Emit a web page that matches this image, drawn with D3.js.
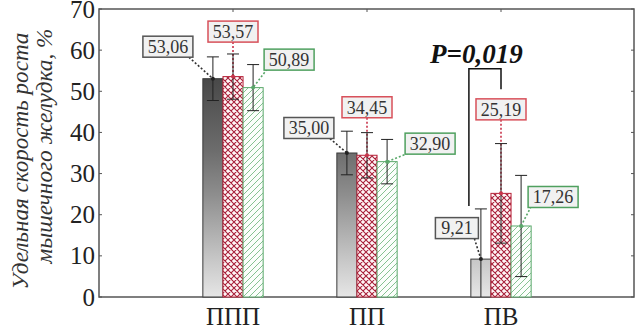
<!DOCTYPE html>
<html><head><meta charset="utf-8">
<script src="https://cdn.jsdelivr.net/npm/d3@7"></script>
<style>
html,body{margin:0;padding:0;background:#fff;}
svg{display:block;}
</style></head>
<body>
<svg id="chart" width="637" height="330"></svg>
<script>
// ---- data ----
const categories = ["ППП", "ПП", "ПВ"];
const valuesDark  = [53.06, 35.00, 9.21];
const valuesRed   = [53.57, 34.45, 25.19];
const valuesGreen = [50.89, 32.90, 17.26];
const errDark  = [5.3, 5.3, 12.2];
const errRed   = [5.5, 5.5, 12.1];
const errGreen = [5.6, 5.4, 12.3];
const yTicks = [0, 10, 20, 30, 40, 50, 60, 70];
const yTitle = ["Удельная скорость роста", "мышечного желудка, %"];
const pLabel = "P=0,019";

// ---- font detection (pick an installed serif face) ----
function pickFont(cands){
  const c = document.createElement("canvas").getContext("2d");
  const s = "Удельная 0123456789 mmmwwwlli";
  for (const f of cands){
    for (const base of ["monospace","sans-serif"]){
      c.font = `40px ${base}`; const w0 = c.measureText(s).width;
      c.font = `40px "${f}", ${base}`; const w1 = c.measureText(s).width;
      if (Math.abs(w1-w0) > 0.5) return `"${f}", serif`;
    }
  }
  return "serif";
}
const FF = pickFont(["Liberation Serif","Tinos","Times New Roman","Times","Noto Serif","DejaVu Serif","FreeSerif","Nimbus Roman"]);

// ---- layout ----
const svg = d3.select("#chart").style("font-family", FF);
const x = d3.scaleLinear().domain([0, categories.length + 1]).range([99, 635]);
const y = d3.scaleLinear().domain([0, 70]).range([297, 9]);
const barU = 0.15;
const bw = x(barU) - x(0);

const series = [
  {key:"dark",  vals:valuesDark,  err:errDark,  off:-1, fill:"url(#gradDark)", stroke:"#3a3a3a", lab:"#555", lead:"#333",
   lo:[[-45,-32],[-38,-25],[-24,-31]]},
  {key:"red",   vals:valuesRed,   err:errRed,   off:0,  fill:"url(#hatchRed)", stroke:"#b8243a", lab:"#d8505a", lead:"#c8344a",
   lo:[[0,-45],[0,-48],[0,-84]]},
  {key:"green", vals:valuesGreen, err:errGreen, off:1,  fill:"url(#hatchGreen)", stroke:"#5aa86a", lab:"#4fa05f", lead:"#5aa86a",
   lo:[[36,-28],[43,-18],[32,-29]]}
];

const defs = svg.append("defs");
const g = defs.append("linearGradient").attr("id","gradDark")
  .attr("gradientUnits","userSpaceOnUse").attr("x1",0).attr("x2",0)
  .attr("y1",y(55)).attr("y2",y(0));
[[0,"#454545"],[0.35,"#6c6c6c"],[0.55,"#8e8e8e"],[0.83,"#c6c6c6"],[1,"#e6e6e6"]]
  .forEach(([o,c])=>g.append("stop").attr("offset",o).attr("stop-color",c));

const pr = defs.append("pattern").attr("id","hatchRed").attr("patternUnits","userSpaceOnUse")
  .attr("width",6).attr("height",6);
pr.append("rect").attr("width",6).attr("height",6).attr("fill","#fff6f6");
pr.append("path").attr("d","M0,0L6,6M6,0L0,6M-1,5L1,7M5,-1L7,1M5,7L7,5M-1,1L1,-1")
  .attr("stroke","#a8203a").attr("stroke-width",1.1);

const pg = defs.append("pattern").attr("id","hatchGreen").attr("patternUnits","userSpaceOnUse")
  .attr("width",6).attr("height",6);
pg.append("rect").attr("width",6).attr("height",6).attr("fill","#fbfefb");
pg.append("path").attr("d","M0,6L6,0M-1.5,1.5L1.5,-1.5M4.5,7.5L7.5,4.5")
  .attr("stroke","#78bb86").attr("stroke-width",0.9);

// frame
svg.append("rect").attr("x",x.range()[0]).attr("y",y(70)).attr("width",x.range()[1]-x.range()[0]-1)
  .attr("height",y(0)-y(70)).attr("fill","none").attr("stroke","#555").attr("stroke-width",1.5);

// inward ticks
const tk = svg.append("g").attr("stroke","#555").attr("stroke-width",1);
yTicks.forEach(t=>{
  tk.append("line").attr("x1",x.range()[0]).attr("x2",x.range()[0]+3).attr("y1",y(t)).attr("y2",y(t));
  tk.append("line").attr("x1",x.range()[1]-1).attr("x2",x.range()[1]-4).attr("y1",y(t)).attr("y2",y(t));
});
categories.forEach((c,i)=>{
  tk.append("line").attr("x1",x(i+1)).attr("x2",x(i+1)).attr("y1",y(70)).attr("y2",y(70)+3);
});

// y tick labels
svg.append("g").selectAll("text").data(yTicks).join("text")
  .attr("x",95).attr("y",d=>y(d)).attr("dy","0.34em").attr("text-anchor","end")
  .attr("font-size",25).attr("fill","#222").text(d=>d);

// x labels
svg.append("g").selectAll("text").data(categories).join("text")
  .attr("x",(d,i)=>x(i+1)).attr("y",325).attr("text-anchor","middle")
  .attr("font-size",25).attr("fill","#222").text(d=>d);

// y title
const titlePos = [[28,161,257],[52,146,235]];
yTitle.forEach((t,i)=>{
  const el = svg.append("text")
    .attr("transform",`translate(${titlePos[i][0]},${titlePos[i][1]}) rotate(-90)`)
    .attr("text-anchor","middle").attr("font-style","italic").attr("font-size",20).attr("fill","#333").text(t);
  const len = el.node().getComputedTextLength();
  el.attr("font-size",20*titlePos[i][2]/len);
});

// bars
const fmt = v => d3.format(".2f")(v).replace(".", ",");
series.forEach(s=>{
  const gb = svg.append("g");
  s.vals.forEach((v,i)=>{
    const cx = x(i+1+s.off*barU);
    gb.append("rect").attr("x",cx-bw/2).attr("y",y(v)).attr("width",bw).attr("height",y(0)-y(v))
      .attr("fill",s.fill).attr("stroke",s.stroke).attr("stroke-width",1);
  });
});

// leader lines + labels + error bars
series.forEach(s=>{
  s.vals.forEach((v,i)=>{
    const cx = x(i+1+s.off*barU), cy = y(v);
    const [dx,dy] = s.lo[i];
    const bx = cx+dx, by = cy+dy;
    const boxW = fmt(v).length>4 ? 50 : 43, boxH = 21;
    let ex = bx, ey = by + boxH/2;
    if (dx < -5) ex = bx + boxW/2 - 4;
    else if (dx > 5) { ex = bx - boxW/2 + 3; ey = by + boxH/2 - 1; }
    svg.append("line").attr("x1",ex).attr("y1",ey).attr("x2",cx).attr("y2",cy)
      .attr("stroke",s.lead).attr("stroke-width",1.6).attr("stroke-dasharray","2,2");
    const lo = Math.max(0, v - s.err[i]), hi = v + s.err[i];
    const e = svg.append("g").attr("stroke","#222").attr("stroke-width",1);
    e.append("line").attr("x1",cx).attr("x2",cx).attr("y1",y(lo)).attr("y2",y(hi));
    e.append("line").attr("x1",cx-6).attr("x2",cx+6).attr("y1",y(hi)).attr("y2",y(hi));
    if (v - s.err[i] > 0) e.append("line").attr("x1",cx-6).attr("x2",cx+6).attr("y1",y(lo)).attr("y2",y(lo));
    svg.append("circle").attr("cx",cx).attr("cy",cy).attr("r",2).attr("fill",s.key==="dark"?"#222":s.lead);
    svg.append("rect").attr("x",bx-boxW/2).attr("y",by-boxH/2).attr("width",boxW).attr("height",boxH)
      .attr("fill","#f1f1f1").attr("stroke",s.lab).attr("stroke-width",1.5);
    svg.append("text").attr("x",bx).attr("y",by).attr("dy","0.35em").attr("text-anchor","middle")
      .attr("font-size",18).attr("fill","#333").text(fmt(v));
  });
});

// significance bracket
const leftX = x(3 - barU) - 12, rightX = x(3);
const topY = y(55.5);
svg.append("path")
  .attr("d",`M${leftX},${y(valuesDark[2]+errDark[2])-3}V${topY}H${rightX}V${y(50.5)}`)
  .attr("fill","none").attr("stroke","#111").attr("stroke-width",1.5);
svg.append("text").attr("x",430).attr("y",63).attr("font-size",27).attr("font-weight","bold")
  .attr("font-style","italic").attr("fill","#111").text(pLabel);
</script>
</body></html>
